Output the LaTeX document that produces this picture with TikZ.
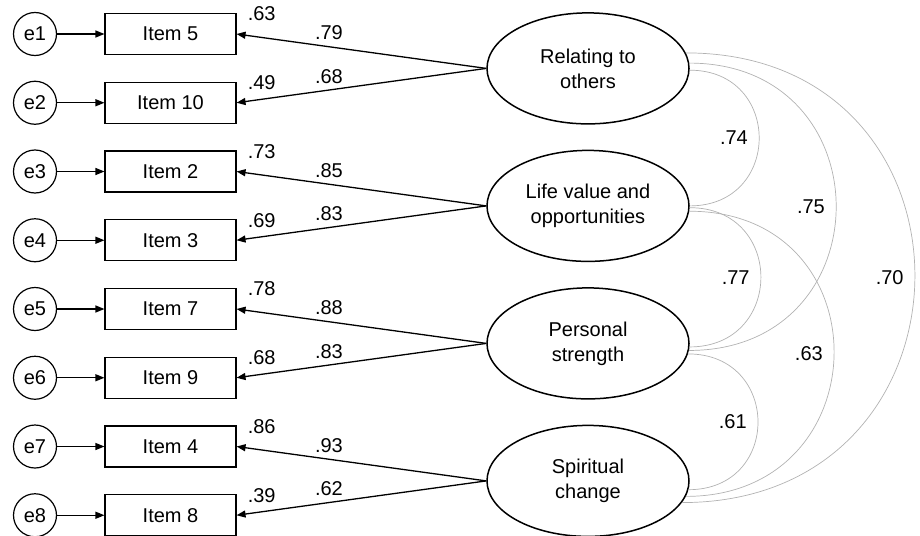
\documentclass[tikz,border=0pt]{standalone}
\usepackage{fontspec}
\setmainfont{Liberation Sans}
\usetikzlibrary{arrows.meta,shapes.geometric}

\begin{document}
\begin{tikzpicture}[x=1pt,y=-1pt,font=\fontsize{20}{25}\selectfont,
  err/.style={circle,draw,line width=1.2pt,minimum size=43pt,inner sep=0pt},
  obs/.style={rectangle,draw,line width=1.1pt,minimum width=131pt,minimum height=41pt,inner sep=0pt},
  lat/.style={ellipse,draw,line width=1.5pt,minimum width=202pt,minimum height=111pt,inner sep=0pt,align=center},
  ld/.style={-{Triangle[length=9pt,width=7pt]},line width=1.3pt},
  cov/.style={gray!60,line width=0.7pt,out=0,in=0,looseness=1.75},
  num/.style={inner sep=0pt}]
\useasboundingbox (0,0) rectangle (920,535);
% error terms and items
\node[err] (e1) at (35,34) {e1};     \node[obs] (i5) at (170.5,34) {Item 5};
\node[err] (e2) at (35,102.75) {e2}; \node[obs] (i10) at (170.5,102.75) {Item 10};
\node[err] (e3) at (35,171.5) {e3};  \node[obs] (i2) at (170.5,171.5) {Item 2};
\node[err] (e4) at (35,240.25) {e4}; \node[obs] (i3) at (170.5,240.25) {Item 3};
\node[err] (e5) at (35,309) {e5};    \node[obs] (i7) at (170.5,309) {Item 7};
\node[err] (e6) at (35,377.75) {e6}; \node[obs] (i9) at (170.5,377.75) {Item 9};
\node[err] (e7) at (35,446.5) {e7};  \node[obs] (i4) at (170.5,446.5) {Item 4};
\node[err] (e8) at (35,515.25) {e8}; \node[obs] (i8) at (170.5,515.25) {Item 8};
\draw[ld] (e1)--(i5); \draw[ld] (e2)--(i10); \draw[ld] (e3)--(i2); \draw[ld] (e4)--(i3);
\draw[ld] (e5)--(i7); \draw[ld] (e6)--(i9); \draw[ld] (e7)--(i4); \draw[ld] (e8)--(i8);
% squared multiple correlations
\node[num,anchor=west] at ([xshift=11pt,yshift=-1pt]i5.north east) {.63};
\node[num,anchor=west] at ([xshift=11pt,yshift=-1pt]i10.north east) {.49};
\node[num,anchor=west] at ([xshift=11pt,yshift=-1pt]i2.north east) {.73};
\node[num,anchor=west] at ([xshift=11pt,yshift=-1pt]i3.north east) {.69};
\node[num,anchor=west] at ([xshift=11pt,yshift=-1pt]i7.north east) {.78};
\node[num,anchor=west] at ([xshift=11pt,yshift=-1pt]i9.north east) {.68};
\node[num,anchor=west] at ([xshift=11pt,yshift=-1pt]i4.north east) {.86};
\node[num,anchor=west] at ([xshift=11pt,yshift=-1pt]i8.north east) {.39};
% factors
\node[lat] (rel) at (588,68.4) {Relating to\\others};
\node[lat] (life) at (588,205.9) {Life value and\\opportunities};
\node[lat] (pers) at (588,343.4) {Personal\\strength};
\node[lat] (spir) at (588,480.9) {Spiritual\\change};
% loadings
\draw[ld] (rel.west)--(i5.east) node[num,pos=0.63,above=6pt] {.79};
\draw[ld] (rel.west)--(i10.east) node[num,pos=0.63,above=6pt] {.68};
\draw[ld] (life.west)--(i2.east) node[num,pos=0.63,above=6pt] {.85};
\draw[ld] (life.west)--(i3.east) node[num,pos=0.63,above=6pt] {.83};
\draw[ld] (pers.west)--(i7.east) node[num,pos=0.63,above=6pt] {.88};
\draw[ld] (pers.west)--(i9.east) node[num,pos=0.63,above=6pt] {.83};
\draw[ld] (spir.west)--(i4.east) node[num,pos=0.63,above=6pt] {.93};
\draw[ld] (spir.west)--(i8.east) node[num,pos=0.63,above=6pt] {.62};
% factor correlations
\draw[cov] (rel.-1) to node[num,pos=0.5,left=11pt,black] {.74} (life.0.5);
\draw[cov] (life.-1.7) to node[num,pos=0.5,left=11pt,black] {.77} (pers.-2);
\draw[cov] (pers.-6) to node[num,pos=0.5,left=11pt,black] {.61} (spir.-5.7);
\draw[cov] (rel.3) to node[num,pos=0.5,left=11pt,black] {.75} (pers.-4.3);
\draw[cov] (life.-3.4) to node[num,pos=0.5,left=11pt,black] {.63} (spir.-9.4);
\draw[cov] (rel.9) to node[num,pos=0.5,left=11pt,black] {.70} (spir.-13);
\end{tikzpicture}
\end{document}
